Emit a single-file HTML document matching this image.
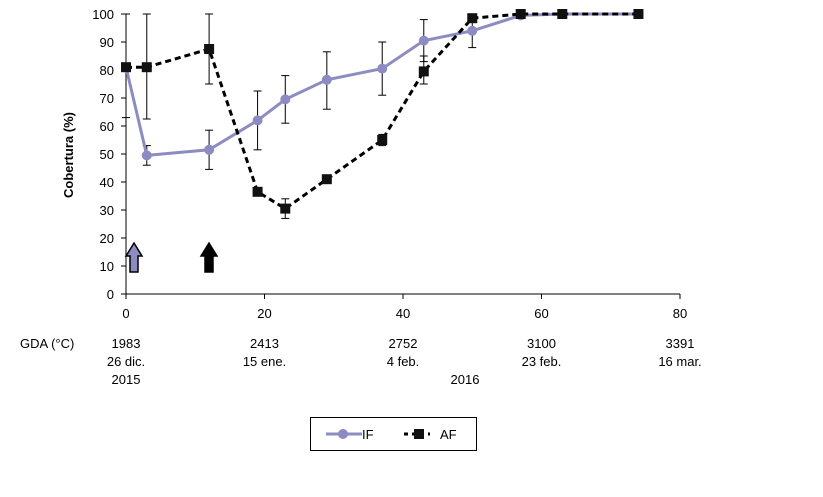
<!DOCTYPE html>
<html><head><meta charset="utf-8"><style>
body{margin:0;background:#fff;}
svg text{font-family:"Liberation Sans",Arial,sans-serif;font-size:13px;fill:#000;}
</style></head><body>
<svg id="chart" width="823" height="492"></svg>
<script>
const xs=[0,3,12,19,23,29,37,43,50,57,63,74];
const ifVals=[81,49.5,51.5,62,69.5,76.5,80.5,90.5,94,99.5,100,100];
const afVals=[81,81,87.5,36.5,30.5,41,55,79.5,98.5,100,100,100];
const errBars=[[0,63,100],[3,46,53],[3,62.5,100],[12,44.5,58.5],[12,75,100],[19,51.5,72.5],[23,61,78],[23,27,34],[29,66,86.5],[37,71,90],[37,53,57],[43,83,98],[43,75,85],[50,88,98]];
const yTicks=[0,10,20,30,40,50,60,70,80,90,100];
const xTicks=[0,20,40,60,80];
const dateLabels=[[0,"1983","26 dic.","2015"],[20,"2413","15 ene.",""],[40,"2752","4 feb.","2016"],[60,"3100","23 feb.",""],[80,"3391","16 mar.",""]];
const X=v=>126+v*(680-126)/80, Y=v=>294-v*2.8;
const s=document.getElementById('chart');const NS='http://www.w3.org/2000/svg';
function mk(t,a,txt){const e=document.createElementNS(NS,t);for(const k in a)e.setAttribute(k,a[k]);if(txt!==undefined)e.textContent=txt;s.appendChild(e);return e;}
let e;
e=mk('line',{x1:X(0),y1:Y(0),x2:X(0),y2:Y(100),stroke:'#000'});


e=mk('line',{x1:X(0),y1:Y(0),x2:X(80),y2:Y(0),stroke:'#000'});


yTicks.forEach(v=>{mk('line',{x1:X(0)-5,y1:Y(v),x2:X(0),y2:Y(v),stroke:'#000'});
e=mk('text',{x:X(0)-12,y:Y(v)+5,'text-anchor':'end'},v);

});
xTicks.forEach(v=>{mk('line',{x1:X(v),y1:Y(0),x2:X(v),y2:Y(0)+5,stroke:'#000'});
e=mk('text',{x:X(v),y:Y(0)+24,'text-anchor':'middle'},v);

});
e=mk('text',{x:0,y:0,transform:'translate(73,155) rotate(-90)','text-anchor':'middle','font-weight':'bold'},'Cobertura (%)');


e=mk('text',{x:20,y:348},'GDA (°C)');


dateLabels.forEach(d=>{[1,2,3].forEach(i=>{if(d[i]){e=mk('text',{x:X(d[0])+(i==3&&d[0]==40?62:0),y:348+(i-1)*18,'text-anchor':'middle'},d[i]);

}});});
errBars.forEach(b=>{const x=X(b[0]);mk('line',{x1:x,y1:Y(b[1]),x2:x,y2:Y(b[2]),stroke:'#000'});
mk('line',{x1:x-4,y1:Y(b[1]),x2:x+4,y2:Y(b[1]),stroke:'#000'});mk('line',{x1:x-4,y1:Y(b[2]),x2:x+4,y2:Y(b[2]),stroke:'#000'});});
e=mk('polyline',{points:xs.map((x,i)=>X(x)+','+Y(ifVals[i])).join(' '),fill:'none',stroke:'#8c8cc2','stroke-width':3});


e=mk('polyline',{points:xs.map((x,i)=>X(x)+','+Y(afVals[i])).join(' '),fill:'none',stroke:'#000','stroke-width':3,'stroke-dasharray':'6,4'});


xs.forEach((x,i)=>{e=mk('circle',{cx:X(x),cy:Y(ifVals[i]),r:5,fill:'#8c8cc2'});

});
xs.forEach((x,i)=>{e=mk('rect',{x:X(x)-5,y:Y(afVals[i])-5,width:10,height:10,fill:'#111'});

});
function arrow(cx,fill,name){e=mk('path',{d:`M${cx-4},272 L${cx-4},256 L${cx-8},256 L${cx},243 L${cx+8},256 L${cx+4},256 L${cx+4},272 Z`,fill:fill,stroke:'#000','stroke-width':1.5});

}
arrow(134,'#8c8cc2','if-arrow');arrow(209,'#000','af-arrow');
e=mk('rect',{x:310.5,y:417.5,width:166,height:33,fill:'#fff',stroke:'#000'});


mk('line',{x1:326,y1:434,x2:362,y2:434,stroke:'#8c8cc2','stroke-width':3});
mk('circle',{cx:343,cy:434,r:5,fill:'#8c8cc2'});
e=mk('text',{x:362,y:439},'IF');


mk('line',{x1:404,y1:434,x2:430,y2:434,stroke:'#000','stroke-width':3,'stroke-dasharray':'4,4'});
mk('rect',{x:414,y:429,width:10,height:10,fill:'#111'});
e=mk('text',{x:440,y:439},'AF');


</script></body></html>
